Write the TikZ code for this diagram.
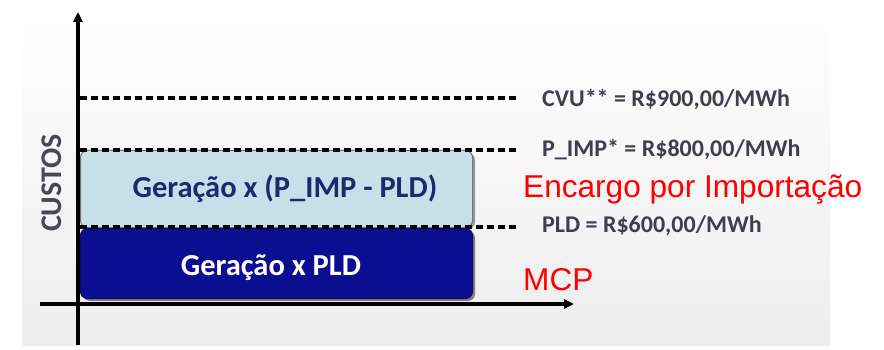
\documentclass[tikz,border=0pt]{standalone}
\usepackage{fontspec}
\setmainfont{Carlito}
\newfontfamily\redfont{Liberation Sans}
\usetikzlibrary{arrows.meta}
\definecolor{lightbox}{RGB}{197,224,232}
\definecolor{darkbox}{RGB}{12,14,145}
\definecolor{navytext}{RGB}{30,40,110}
\definecolor{graytext}{RGB}{62,62,78}
\definecolor{axisgray}{RGB}{72,72,84}
\tikzset{
  axisline/.style={line width=3.2pt, black, -{Triangle[length=10pt,width=9pt]}},
  levelline/.style={line width=3.2pt, black, dash pattern=on 7pt off 4pt},
  costbox/.style={rounded corners=7pt, draw=black!55, line width=1pt},
  levellabel/.style={anchor=base west, inner sep=0pt, text=graytext, font=\fontsize{24}{26}\selectfont\bfseries},
  boxlabel/.style={anchor=base, inner sep=0pt, font=\fontsize{30.5}{32}\selectfont\bfseries},
  redlabel/.style={anchor=base west, inner sep=0pt, text=red, font=\redfont\fontsize{31.6}{33}\selectfont}
}
\begin{document}
\begin{tikzpicture}[x=1pt,y=-1pt]
\useasboundingbox (0,0) rectangle (884,350);
\fill[top color=white, bottom color=black!7] (22,0) rectangle (830,345);
% boxes (shadows)
\fill[black!50, rounded corners=7pt] (83,231) rectangle (475,301);
\fill[black!40, rounded corners=7pt] (83,153) rectangle (475,229);
\node[costbox, fill=lightbox, minimum width=392pt, minimum height=77pt, anchor=north west, inner sep=0pt] (imp) at (80,150) {};
\node[costbox, fill=darkbox, draw=darkbox!70!black, minimum width=392pt, minimum height=70pt, anchor=north west, inner sep=0pt] (pld) at (80,228) {};
\node[boxlabel, text=navytext] (impt) at (285,197) {Geração x (P\_IMP - PLD)};
\node[boxlabel, text=white] (pldt) at (271,275) {Geração x PLD};
% level lines
\coordinate (c0) at (80,98);
\coordinate (c1) at (517,98);
\coordinate (p0) at (80,150);
\coordinate (p1) at (517,150);
\coordinate (l0) at (80,227);
\coordinate (l1) at (517,227);
\draw[levelline] (c0) -- (c1);
\draw[levelline] (p0) -- (p1);
\draw[levelline] (l0) -- (l1);
% axes
\coordinate (yb) at (78,345);
\coordinate (yt) at (78,12);
\coordinate (xl) at (40,304);
\coordinate (xr) at (574,304);
\draw[axisline] (yb) -- (yt);
\draw[axisline] (xl) -- (xr);
\node[rotate=90, inner sep=0pt, text=axisgray, font=\fontsize{30}{32}\selectfont\bfseries] (custos) at (52,183) {CUSTOS};
% labels
\node[levellabel] (cvu) at (542,107) {CVU** = R\$900,00/MWh};
\node[levellabel] (pimp) at (542,157) {P\_IMP* = R\$800,00/MWh};
\node[levellabel] (pldl) at (542,232) {PLD = R\$600,00/MWh};
\node[redlabel] (enc) at (523,197) {Encargo por Importação};
\node[redlabel] (mcp) at (523,290) {MCP};
\end{tikzpicture}
\end{document}
